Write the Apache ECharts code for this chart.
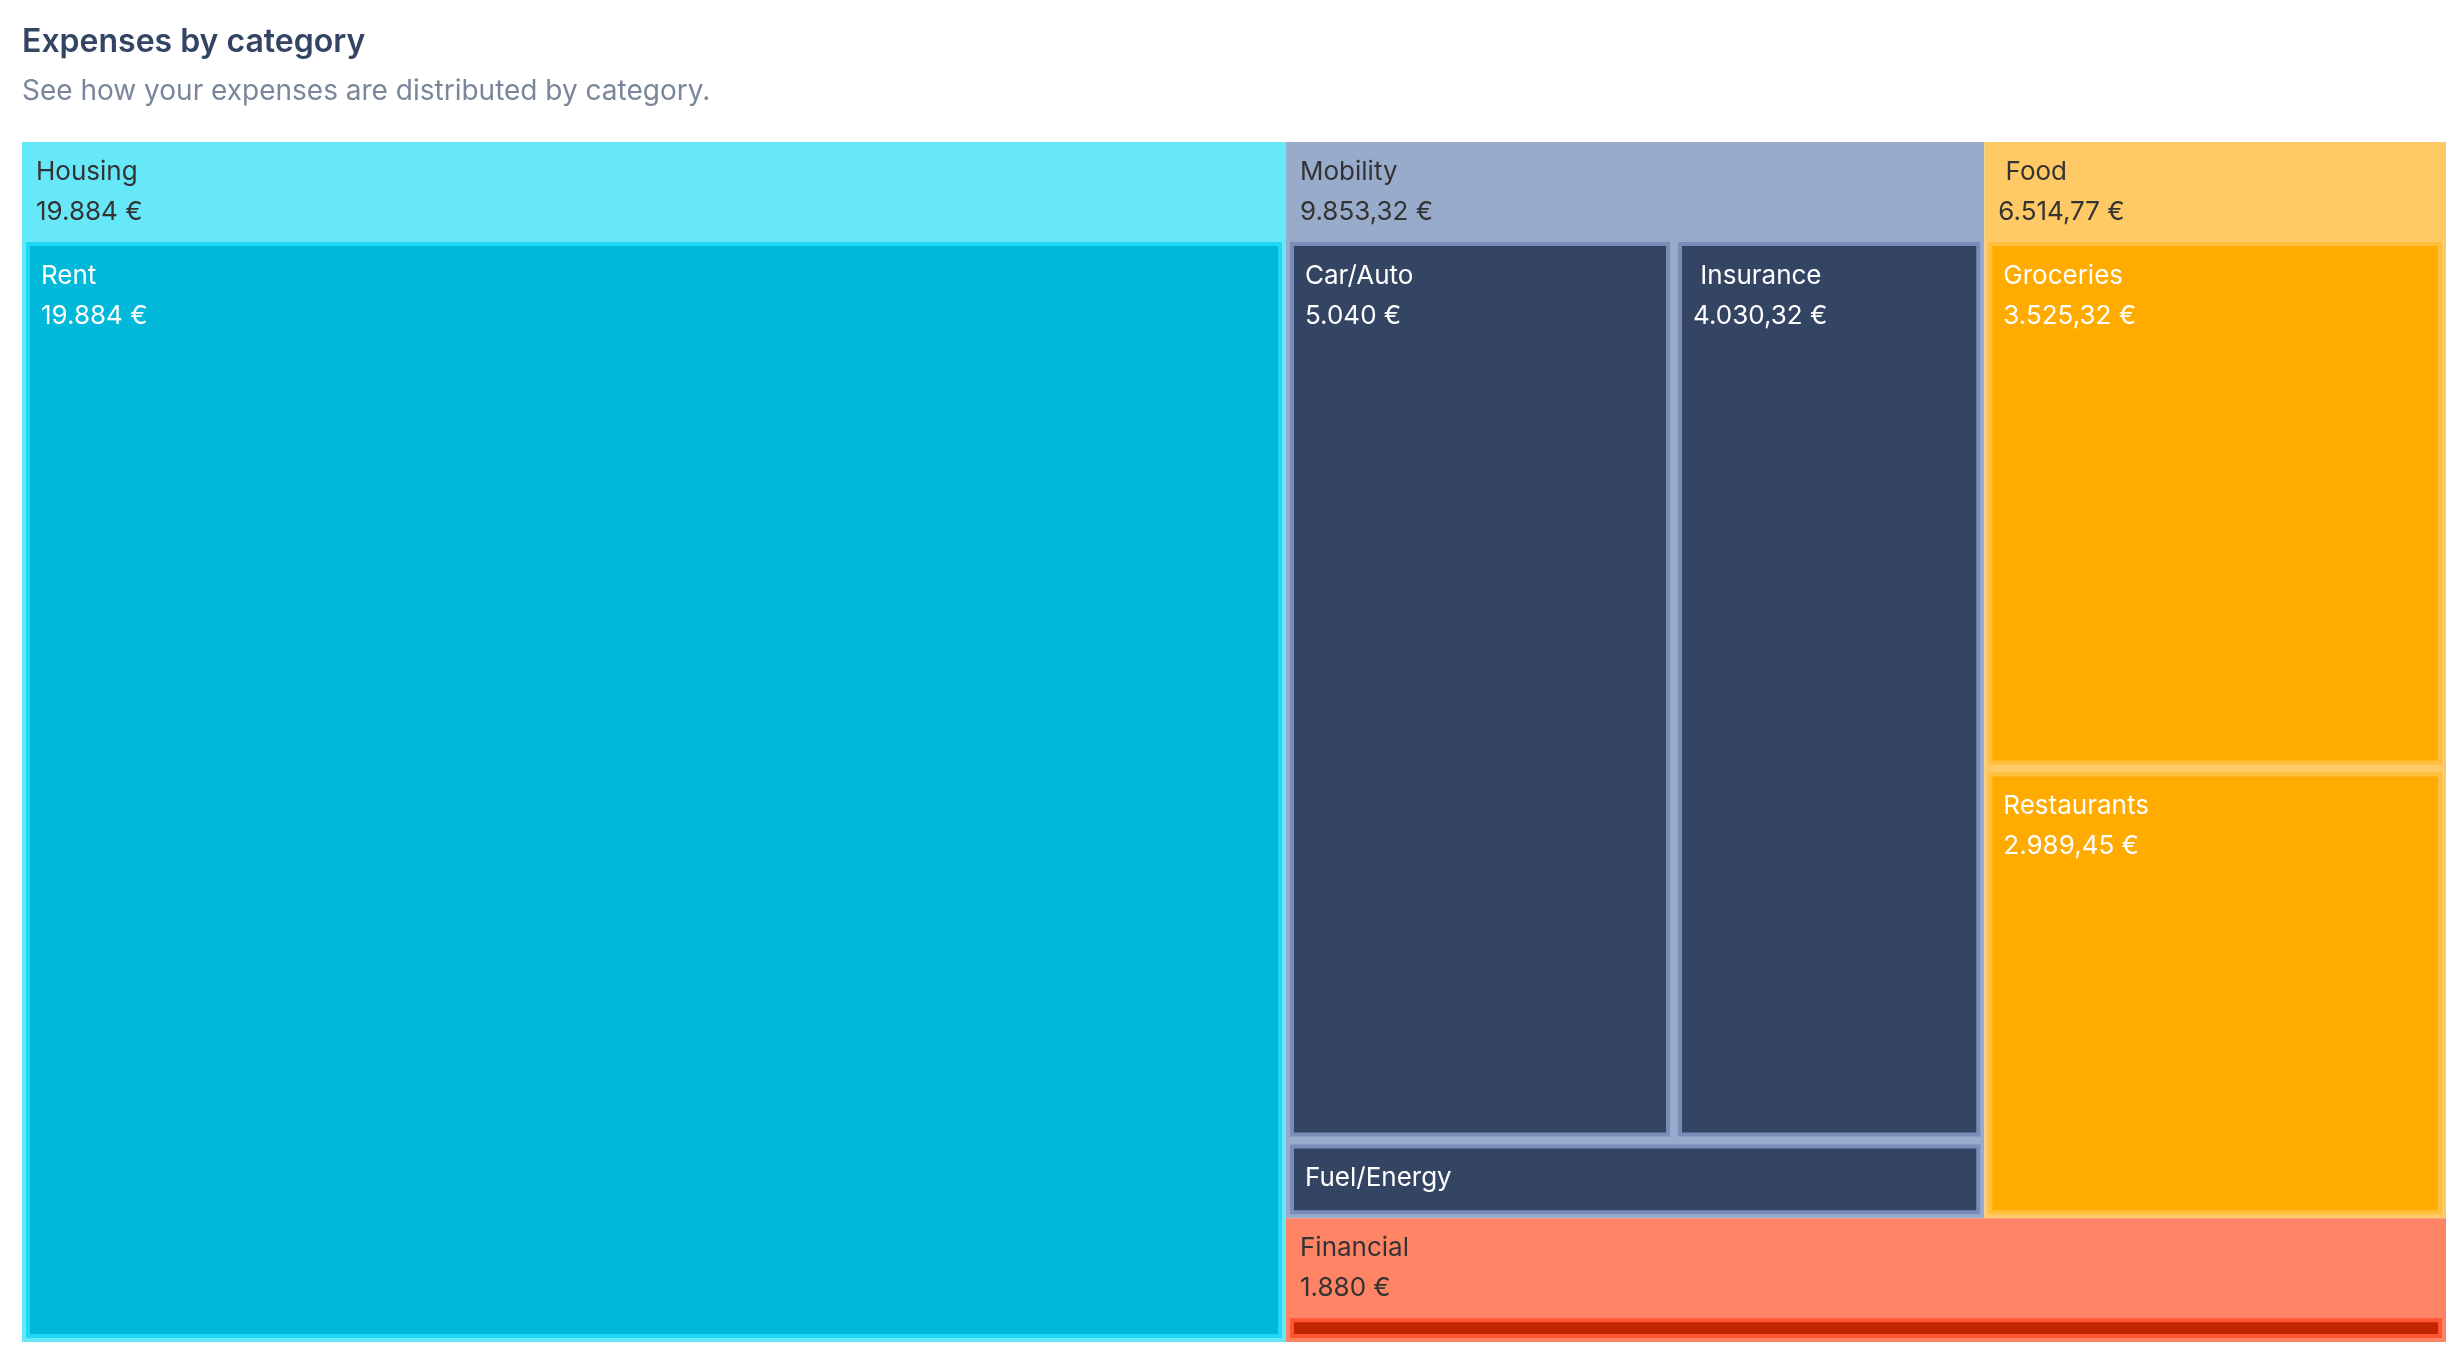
<!DOCTYPE html>
<html>
<head>
<meta charset="utf-8">
<script src="https://cdn.jsdelivr.net/npm/echarts@6/dist/echarts.min.js"></script>
<style>
  html, body { margin: 0; padding: 0; background: #ffffff; }
  #chart { width: 2464px; height: 1358px; }
</style>
</head>
<body>
<div id="chart"></div>
<script>
// ---- data ----
const groupNames = ['Housing', 'Mobility', ' Food', 'Financial'];
const housingNames = ['Rent'];
const housingValues = [19884];
const mobilityNames = ['Car/Auto', ' Insurance', 'Fuel/Energy'];
const mobilityValues = [5040, 4030.32, 783];
const foodNames = ['Groceries', 'Restaurants'];
const foodValues = [3525.32, 2989.45];
const financialNames = ['Bank fees'];
const financialValues = [1880];

// ---- styles per group ----
const groupStyles = [
  { parent: '#67E8F9', childBorder: '#22D8F5', child: '#00B8D9' },
  { parent: '#99ABCA', childBorder: '#7A8DB8', child: '#344563' },
  { parent: '#FFCA66', childBorder: '#FFBE3C', child: '#FFAB00' },
  { parent: '#FF8466', childBorder: '#FF5630', child: '#BF2600' }
];

const childNames = [housingNames, mobilityNames, foodNames, financialNames];
const childValues = [housingValues, mobilityValues, foodValues, financialValues];

function fmt(v) {
  return v.toLocaleString('de-DE', { minimumFractionDigits: 0, maximumFractionDigits: 2 }) + ' €';
}

const data = groupNames.map(function (g, i) {
  const st = groupStyles[i];
  const kids = childNames[i].map(function (n, j) {
    return {
      name: n,
      value: childValues[i][j],
      itemStyle: { color: st.child, borderColor: st.childBorder }
    };
  });
  const total = childValues[i].reduce(function (a, b) { return a + b; }, 0);
  return {
    name: g,
    value: Math.round(total * 100) / 100,
    itemStyle: { color: st.parent, borderColor: st.parent },
    children: kids
  };
});

const chart = echarts.init(document.getElementById('chart'));
chart.setOption({
  animation: false,
  title: {
    text: 'Expenses by category',
    subtext: 'See how your expenses are distributed by category.',
    left: 22,
    top: 26,
    padding: 0,
    itemGap: 20,
    textStyle: { fontFamily: 'Inter', fontSize: 32, fontWeight: 600, color: '#344563' },
    subtextStyle: { fontFamily: 'Inter', fontSize: 28, fontWeight: 400, color: '#7A869A' }
  },
  series: [{
    type: 'treemap',
    left: 22,
    top: 142,
    width: 2424,
    height: 1200,
    roam: false,
    nodeClick: false,
    breadcrumb: { show: false },
    label: {
      show: true,
      position: 'insideTopLeft',
      distance: 0,
      padding: [10, 11, 6, 11],
      fontFamily: 'Inter',
      fontSize: 26,
      lineHeight: 40,
      color: '#ffffff',
      formatter: function (p) { return p.name + '\n' + fmt(p.value); }
    },
    upperLabel: {
      show: true,
      height: 100,
      padding: [0, 10, 0, 10],
      fontFamily: 'Inter',
      fontSize: 26,
      lineHeight: 40,
      color: '#333333',
      formatter: function (p) { return p.name + '\n' + fmt(p.value); }
    },
    levels: [
      { itemStyle: { borderWidth: 0, gapWidth: 0 }, upperLabel: { show: false } },
      { itemStyle: { borderWidth: 4, gapWidth: 8 } },
      { itemStyle: { borderWidth: 4, gapWidth: 0 } }
    ],
    data: data
  }]
});
</script>
</body>
</html>
